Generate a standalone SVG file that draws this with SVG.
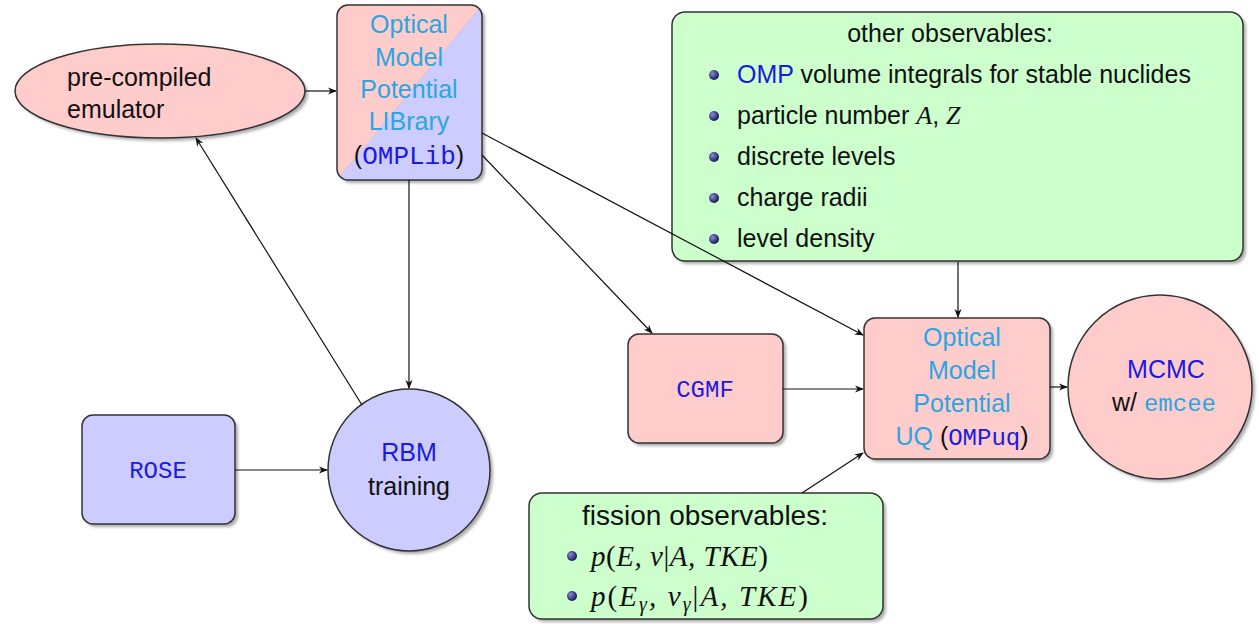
<svg xmlns="http://www.w3.org/2000/svg" width="1259" height="624" viewBox="0 0 1259 624">
<defs>
<filter id="sh" x="-10%" y="-10%" width="130%" height="130%"><feGaussianBlur stdDeviation="1.5"/></filter>
<radialGradient id="ball" cx="35%" cy="35%" r="65%"><stop offset="0" stop-color="#8a8ad8"/><stop offset="1" stop-color="#1a1a5a"/></radialGradient>
<marker id="ar" viewBox="0 0 10 10" refX="9" refY="5" markerWidth="9" markerHeight="9" markerUnits="userSpaceOnUse" orient="auto"><path d="M0,1 L10,5 L0,9 L3,5 Z" fill="#111"/></marker>
<clipPath id="libclip"><rect x="337" y="5" width="145" height="175" rx="11"/></clipPath>
</defs>
<style>
.n{stroke:#333;stroke-width:1.5}
.pink{fill:#ffcccc}
.blue{fill:#ccccff}
.green{fill:#ccffcc}
.shd{fill:#888;opacity:.7;filter:url(#sh)}
.t{font-family:"Liberation Sans","DejaVu Sans",sans-serif;font-size:25px;fill:#111}
.lb{fill:#2ba6e0}
.db{fill:#1a1ae0}
.mono{font-family:"Liberation Mono","DejaVu Sans Mono",monospace;font-size:24px}
.math{font-family:"Liberation Serif","DejaVu Serif",serif;font-style:italic;font-size:26px;fill:#111}
.c{text-anchor:middle}
.e{fill:none;stroke:#111;stroke-width:1.2;marker-end:url(#ar)}
</style>
<rect width="1259" height="624" fill="#fff"/>

<g id="emulator">
<ellipse class="shd" cx="163" cy="94" rx="145" ry="47"/>
<ellipse class="n pink" cx="160" cy="91" rx="145" ry="47"/>
<text class="t" x="67" y="86">pre-compiled</text>
<text class="t" x="67" y="118">emulator</text>
</g>

<g id="omplib">
<rect class="shd" x="340" y="8" width="145" height="175" rx="11"/>
<g clip-path="url(#libclip)">
<polygon class="pink" points="337,5 482,5 337,180"/>
<polygon class="blue" points="482,5 482,180 337,180"/>
</g>
<rect class="n" x="337" y="5" width="145" height="175" rx="11" fill="none"/>
<text class="t lb c" x="409" y="33">Optical</text>
<text class="t lb c" x="409" y="66">Model</text>
<text class="t lb c" x="409" y="98">Potential</text>
<text class="t lb c" x="409" y="130">LIBrary</text>
<text class="t c" x="409" y="164">(<tspan class="mono db" style="font-size:26px">OMPLib</tspan>)</text>
</g>

<g id="other">
<rect class="shd" x="675" y="15" width="571" height="249" rx="13"/>
<rect class="n green" x="672" y="12" width="571" height="249" rx="13"/>
<text class="t c" x="950" y="42">other observables:</text>
<circle cx="714" cy="75" r="5" fill="url(#ball)"/>
<text class="t" x="737" y="83"><tspan class="db">OMP</tspan> volume integrals for stable nuclides</text>
<circle cx="714" cy="116" r="5" fill="url(#ball)"/>
<text class="t" x="737" y="124">particle number <tspan class="math">A</tspan>, <tspan class="math">Z</tspan></text>
<circle cx="714" cy="157" r="5" fill="url(#ball)"/>
<text class="t" x="737" y="165">discrete levels</text>
<circle cx="714" cy="198" r="5" fill="url(#ball)"/>
<text class="t" x="737" y="206">charge radii</text>
<circle cx="714" cy="239" r="5" fill="url(#ball)"/>
<text class="t" x="737" y="247">level density</text>
</g>

<g id="cgmf">
<rect class="shd" x="631" y="337" width="155" height="109" rx="11"/>
<rect class="n pink" x="628" y="334" width="155" height="109" rx="11"/>
<text class="mono db c" x="705" y="397">CGMF</text>
</g>

<g id="ompuq">
<rect class="shd" x="867" y="321" width="186" height="141" rx="11"/>
<rect class="n pink" x="864" y="318" width="186" height="141" rx="11"/>
<text class="t lb c" x="962" y="346">Optical</text>
<text class="t lb c" x="962" y="379">Model</text>
<text class="t lb c" x="962" y="412">Potential</text>
<text class="t c" x="962" y="445"><tspan class="lb">UQ</tspan> (<tspan class="mono db">OMPuq</tspan>)</text>
</g>

<g id="mcmc">
<circle class="shd" cx="1163" cy="390" r="92"/>
<circle class="n pink" cx="1160" cy="387" r="92"/>
<text class="t db c" x="1166" y="378">MCMC</text>
<text class="t c" x="1164" y="411">w/ <tspan class="mono lb">emcee</tspan></text>
</g>

<g id="rose">
<rect class="shd" x="85" y="418" width="153" height="109" rx="11"/>
<rect class="n blue" x="82" y="415" width="153" height="109" rx="11"/>
<text class="mono db c" x="158" y="478">ROSE</text>
</g>

<g id="rbm">
<circle class="shd" cx="412" cy="473" r="81"/>
<circle class="n blue" cx="409" cy="470" r="81"/>
<text class="t db c" x="409" y="461">RBM</text>
<text class="t c" x="409" y="495">training</text>
</g>

<g id="fission">
<rect class="shd" x="532" y="496" width="354" height="126" rx="13"/>
<rect class="n green" x="529" y="493" width="354" height="126" rx="13"/>
<text class="t c" x="705" y="525" style="font-size:28px">fission observables:</text>
<circle cx="572" cy="556" r="5" fill="url(#ball)"/>
<text class="math" x="591" y="566" style="font-size:29px" textLength="177" lengthAdjust="spacing">p<tspan font-style="normal">(</tspan>E, ν<tspan font-style="normal">|</tspan>A, TKE<tspan font-style="normal">)</tspan></text>
<circle cx="572" cy="596" r="5" fill="url(#ball)"/>
<text class="math" x="591" y="606" style="font-size:29px" textLength="217" lengthAdjust="spacing">p<tspan font-style="normal">(</tspan>E<tspan style="font-size:20px" dy="5">γ</tspan><tspan dy="-5">, ν</tspan><tspan style="font-size:20px" dy="5">γ</tspan><tspan font-style="normal" dy="-5">|</tspan>A, TKE<tspan font-style="normal">)</tspan></text>
</g>

<g id="connectors">
<line class="e" x1="305" y1="91" x2="336" y2="91"/>
<line class="e" x1="409" y1="180" x2="409" y2="388"/>
<line class="e" x1="362" y1="405" x2="196" y2="138"/>
<line class="e" x1="235" y1="470" x2="327" y2="470"/>
<line class="e" x1="482" y1="155" x2="652" y2="333"/>
<line class="e" x1="482" y1="133" x2="863" y2="335"/>
<line class="e" x1="958" y1="262" x2="958" y2="317"/>
<line class="e" x1="783" y1="389" x2="863" y2="389"/>
<line class="e" x1="802" y1="493" x2="863" y2="453"/>
<line class="e" x1="1050" y1="387" x2="1067" y2="387"/>
</g>
</svg>
